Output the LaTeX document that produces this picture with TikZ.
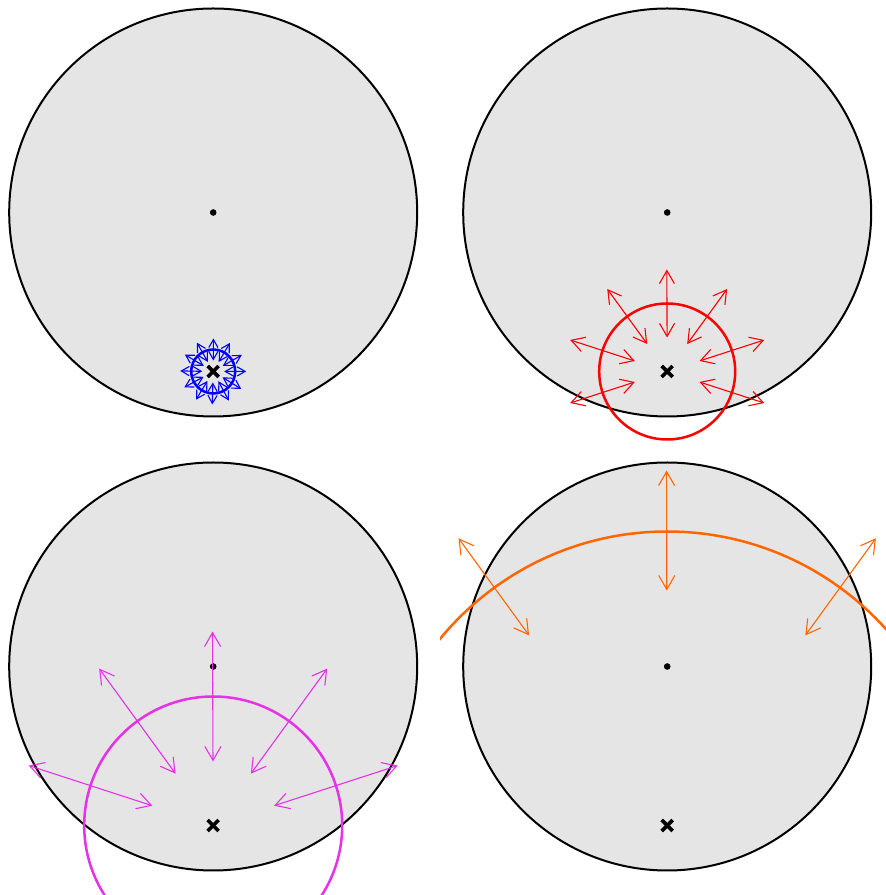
\documentclass[tikz,border=0pt]{standalone}
\usetikzlibrary{arrows.meta,calc}
\definecolor{diskgray}{RGB}{229,229,229}
\definecolor{wmag}{RGB}{230,50,230}
\definecolor{worange}{RGB}{255,102,0}
\tikzset{
  disk/.style={fill=diskgray,draw=black,line width=2bp},
  wave/.style={line width=2.5bp},
  warrow/.style={line width=1.1bp,{Straight Barb[length=#1,width=1.15*#1]}-{Straight Barb[length=#1,width=1.15*#1]}},
  cdot/.style={fill=black},
  xmark/.style={line width=3.6bp,line cap=butt}
}
\begin{document}
\begin{tikzpicture}[x=1bp,y=1bp]
\clip (0,0) rectangle (886,895);
% centers
\coordinate (o1) at (213.2,682.5);
\coordinate (s1) at (213.2,523.5);
\coordinate (o2) at (667.2,682.5);
\coordinate (s2) at (667.2,523.5);
\coordinate (o3) at (213.2,228.5);
\coordinate (s3) at (213.2,69.5);
\coordinate (o4) at (667.2,228.5);
\coordinate (s4) at (667.2,69.5);
% disks
\foreach \o in {o1,o2,o3,o4}{
  \draw[disk] (\o) circle[radius=204];
  \fill[cdot] (\o) circle[radius=3.3];
}
% panel 1 (blue)
\draw[blue,wave] (s1) circle[radius=22];
\foreach \a in {0.2,30,...,330.2}{
  \draw[blue,warrow=8bp] ($(s1)+(\a:11)$) -- ($(s1)+(\a:33)$);
}
% panel 2 (red)
\draw[red,wave] (s2) circle[radius=68];
\foreach \a in {90.2,54,126,18,162,-18,198}{
  \draw[red,warrow=13bp] ($(s2)+(\a:34)$) -- ($(s2)+(\a:102)$);
}
% panel 3 (magenta)
\draw[wmag,wave] (s3) circle[radius=129];
\foreach \a in {90.2,54,126,18,162}{
  \draw[wmag,warrow=14bp] ($(s3)+(\a:64)$) -- ($(s3)+(\a:194)$);
}
% panel 4 (orange)
\begin{scope}
\clip (440,0) rectangle (886,895);
\draw[worange,wave] (s4) circle[radius=294];
\foreach \a in {90.1,54,126}{
  \draw[worange,warrow=14bp] ($(s4)+(\a:235)$) -- ($(s4)+(\a:355)$);
}
\end{scope}
% source marks
\foreach \s in {s1,s2,s3,s4}{
  \draw[xmark] ($(\s)+(-5.5,-5.5)$) -- ($(\s)+(5.5,5.5)$);
  \draw[xmark] ($(\s)+(-5.5,5.5)$) -- ($(\s)+(5.5,-5.5)$);
}
\end{tikzpicture}
\end{document}
